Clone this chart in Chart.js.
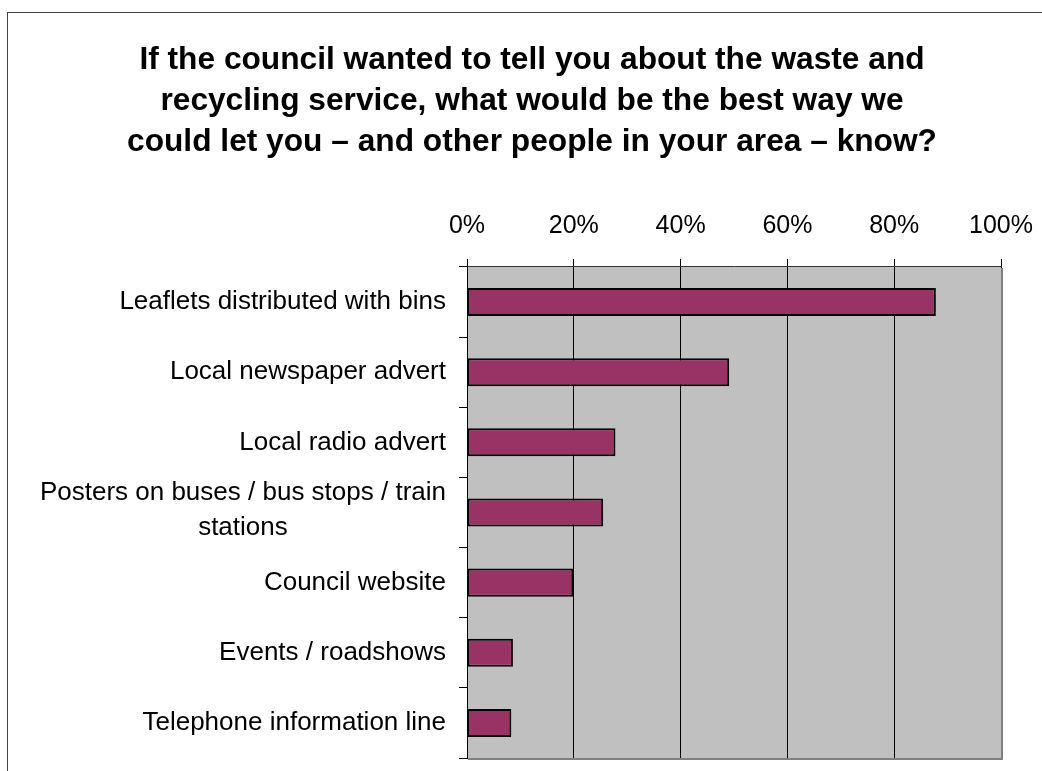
<!DOCTYPE html>
<html>
<head>
<meta charset="utf-8">
<title>Waste and recycling communication</title>
<script src="https://cdn.jsdelivr.net/npm/chart.js@4.4.0/dist/chart.umd.min.js"></script>
<style>
  html, body { margin: 0; padding: 0; background: #fff; }
  #wrap { position: relative; width: 1042px; height: 771px; overflow: hidden; }
  #frame { position: absolute; left: 7px; top: 12px; right: -10px; bottom: -10px;
           border-left: 1px solid #404040; border-top: 1px solid #404040; }
  #chart { position: absolute; left: 0; top: 0; }
</style>
</head>
<body>
<div id="wrap">
  <div id="frame"></div>
  <canvas id="chart" width="1042" height="771"></canvas>
</div>
<script>
const FONT = "'Liberation Sans', Arial, sans-serif";

const titleLines = [
    'If the council wanted to tell you about the waste and',
    'recycling service, what would be the best way we',
    'could let you \u2013 and other people in your area \u2013 know?'
];
const categories = [
    'Leaflets distributed with bins',
    'Local newspaper advert',
    'Local radio advert',
    ['Posters on buses / bus stops / train', 'stations'],
    'Council website',
    'Events / roadshows',
    'Telephone information line'
];
const percentages = [87.8, 49.1, 27.8, 25.5, 19.9, 8.6, 8.3];
const axisTicks = [0, 20, 40, 60, 80, 100];

// grey plot area, with the darker edge on the right and bottom
const plotFrame = {
    id: 'plotFrame',
    beforeDraw(chart) {
        const { ctx, chartArea: a } = chart;
        ctx.save();
        ctx.fillStyle = '#C0C0C0';
        ctx.fillRect(a.left, a.top, a.right - a.left, a.bottom - a.top);
        ctx.restore();
    },
    afterDraw(chart) {
        const { ctx, chartArea: a } = chart;
        ctx.save();
        ctx.strokeStyle = '#808080';
        ctx.lineWidth = 2;
        ctx.beginPath();
        ctx.moveTo(a.right + 1, a.top + 1);
        ctx.lineTo(a.right + 1, a.bottom + 1);
        ctx.lineTo(a.left + 1, a.bottom + 1);
        ctx.stroke();
        ctx.restore();
    }
};

// category labels: right aligned, wrapped labels centred line by line
const categoryLabels = {
    id: 'categoryLabels',
    afterDraw(chart) {
        const { ctx, scales: { y } } = chart;
        const right = chart.chartArea.left - 21;
        const lineGap = 35;
        ctx.save();
        ctx.font = `26px ${FONT}`;
        ctx.fillStyle = '#000';
        ctx.textBaseline = 'middle';
        categories.forEach((label, i) => {
            const cy = y.getPixelForTick(i);
            if (Array.isArray(label)) {
                const widest = Math.max(...label.map(l => ctx.measureText(l).width));
                const top = cy - 2 - (label.length - 1) * lineGap / 2;
                ctx.textAlign = 'center';
                label.forEach((line, j) => ctx.fillText(line, right - widest / 2, top + j * lineGap));
            } else {
                ctx.textAlign = 'right';
                ctx.fillText(label, right, cy);
            }
        });
        ctx.restore();
    }
};

new Chart(document.getElementById('chart'), {
    type: 'bar',
    data: {
        labels: categories,
        datasets: [{
            data: percentages,
            backgroundColor: '#993366',
            borderColor: '#000',
            borderWidth: 2,
            borderSkipped: false,
            barPercentage: 0.5,
            categoryPercentage: 0.8
        }]
    },
    options: {
        indexAxis: 'y',
        responsive: false,
        animation: false,
        devicePixelRatio: 1,
        layout: { padding: { left: 63, right: 41, top: 0, bottom: 13 } },
        plugins: {
            legend: { display: false },
            tooltip: { enabled: false },
            title: {
                display: true,
                text: titleLines,
                color: '#000',
                font: { family: FONT, size: 31.7, weight: 'bold', lineHeight: 1.293 },
                padding: { top: 40, bottom: 47 }
            }
        },
        scales: {
            x: {
                position: 'top',
                min: 0,
                max: 100,
                afterBuildTicks: s => { s.ticks = axisTicks.map(v => ({ value: v })); },
                afterFit: s => { s.height = 57; s.paddingLeft = 0; s.paddingRight = 0; },
                ticks: {
                    callback: v => v + '%',
                    color: '#000',
                    font: { family: FONT, size: 25 },
                    padding: 18,
                    maxRotation: 0,
                    autoSkip: false
                },
                grid: { color: '#000', lineWidth: 1, tickLength: 8, drawTicks: true },
                border: { color: '#333', width: 1 }
            },
            y: {
                afterFit: s => { s.width = 404; },
                ticks: { display: false },
                grid: { color: '#000', drawOnChartArea: false, tickLength: 8, offset: true },
                border: { color: '#000', width: 1 }
            }
        }
    },
    plugins: [plotFrame, categoryLabels]
});
</script>
</body>
</html>
